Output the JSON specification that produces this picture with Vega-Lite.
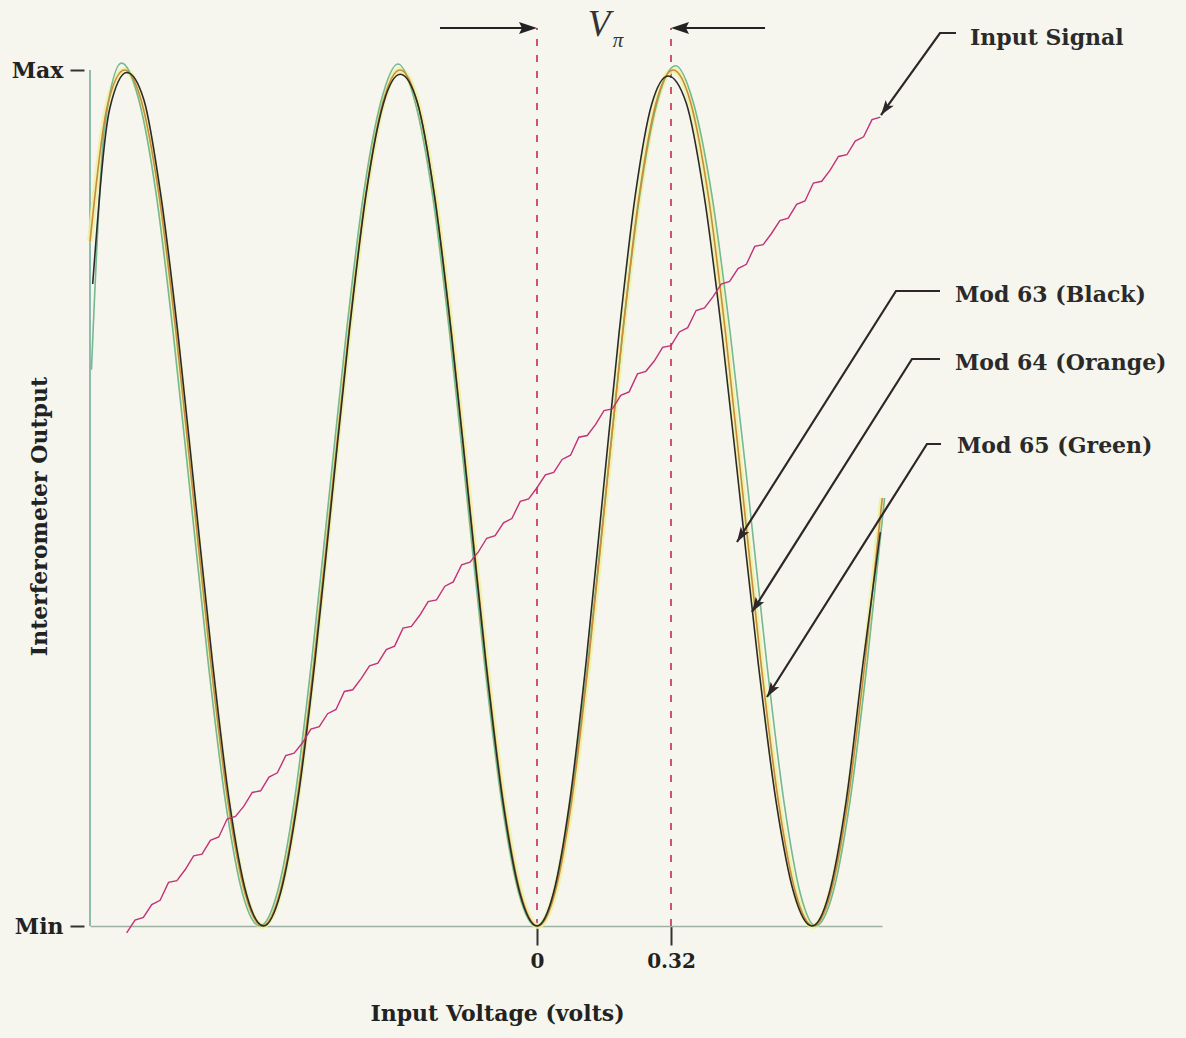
{
  "$schema": "https://vega.github.io/schema/vega-lite/v6.json",
  "width": 792,
  "height": 856,
  "autosize": {"type": "none"},
  "padding": {"left": 90, "top": 70, "right": 304, "bottom": 112},
  "background": "#f6f6ee",
  "config": {
    "view": {"stroke": null},
    "axis": {
      "grid": false,
      "labelFont": "DejaVu Serif",
      "labelFontWeight": "bold",
      "labelFontSize": 20,
      "labelColor": "#222222",
      "titleFont": "DejaVu Serif",
      "titleFontWeight": "bold",
      "titleFontSize": 22,
      "titleColor": "#222222"
    }
  },
  "datasets": {
    "curves": [
      {"series": "Mod 63", "v": -1.0611, "y": 0.75},
      {"series": "Mod 63", "v": -1.0203, "y": 0.955},
      {"series": "Mod 63", "v": -0.9795, "y": 0.997},
      {"series": "Mod 63", "v": -0.9387, "y": 0.965},
      {"series": "Mod 63", "v": -0.8979, "y": 0.852},
      {"series": "Mod 63", "v": -0.8571, "y": 0.69},
      {"series": "Mod 63", "v": -0.8163, "y": 0.5},
      {"series": "Mod 63", "v": -0.7754, "y": 0.31},
      {"series": "Mod 63", "v": -0.7346, "y": 0.145},
      {"series": "Mod 63", "v": -0.6938, "y": 0.037},
      {"series": "Mod 63", "v": -0.653, "y": 0.0},
      {"series": "Mod 63", "v": -0.6122, "y": 0.039},
      {"series": "Mod 63", "v": -0.5714, "y": 0.147},
      {"series": "Mod 63", "v": -0.5306, "y": 0.308},
      {"series": "Mod 63", "v": -0.4898, "y": 0.5},
      {"series": "Mod 63", "v": -0.4489, "y": 0.692},
      {"series": "Mod 63", "v": -0.4081, "y": 0.855},
      {"series": "Mod 63", "v": -0.3673, "y": 0.96},
      {"series": "Mod 63", "v": -0.3265, "y": 0.995},
      {"series": "Mod 63", "v": -0.2857, "y": 0.962},
      {"series": "Mod 63", "v": -0.2449, "y": 0.853},
      {"series": "Mod 63", "v": -0.2041, "y": 0.69},
      {"series": "Mod 63", "v": -0.1633, "y": 0.5},
      {"series": "Mod 63", "v": -0.1224, "y": 0.309},
      {"series": "Mod 63", "v": -0.0816, "y": 0.146},
      {"series": "Mod 63", "v": -0.0408, "y": 0.038},
      {"series": "Mod 63", "v": 0.0, "y": 0.0},
      {"series": "Mod 63", "v": 0.0391, "y": 0.038},
      {"series": "Mod 63", "v": 0.0783, "y": 0.146},
      {"series": "Mod 63", "v": 0.1174, "y": 0.309},
      {"series": "Mod 63", "v": 0.1565, "y": 0.5},
      {"series": "Mod 63", "v": 0.1956, "y": 0.691},
      {"series": "Mod 63", "v": 0.2348, "y": 0.854},
      {"series": "Mod 63", "v": 0.2739, "y": 0.96},
      {"series": "Mod 63", "v": 0.313, "y": 0.993},
      {"series": "Mod 63", "v": 0.356, "y": 0.962},
      {"series": "Mod 63", "v": 0.3989, "y": 0.854},
      {"series": "Mod 63", "v": 0.4419, "y": 0.691},
      {"series": "Mod 63", "v": 0.4849, "y": 0.5},
      {"series": "Mod 63", "v": 0.5278, "y": 0.309},
      {"series": "Mod 63", "v": 0.5708, "y": 0.146},
      {"series": "Mod 63", "v": 0.6137, "y": 0.038},
      {"series": "Mod 63", "v": 0.6567, "y": 0.0},
      {"series": "Mod 63", "v": 0.6975, "y": 0.038},
      {"series": "Mod 63", "v": 0.7383, "y": 0.146},
      {"series": "Mod 63", "v": 0.7791, "y": 0.309},
      {"series": "Mod 63", "v": 0.8199, "y": 0.46},
      {"series": "Mod 64", "v": -1.0673, "y": 0.8},
      {"series": "Mod 64", "v": -1.0261, "y": 0.958},
      {"series": "Mod 64", "v": -0.985, "y": 1.0},
      {"series": "Mod 64", "v": -0.9439, "y": 0.962},
      {"series": "Mod 64", "v": -0.9028, "y": 0.854},
      {"series": "Mod 64", "v": -0.8616, "y": 0.691},
      {"series": "Mod 64", "v": -0.8205, "y": 0.5},
      {"series": "Mod 64", "v": -0.7794, "y": 0.309},
      {"series": "Mod 64", "v": -0.7383, "y": 0.146},
      {"series": "Mod 64", "v": -0.6971, "y": 0.038},
      {"series": "Mod 64", "v": -0.656, "y": 0.0},
      {"series": "Mod 64", "v": -0.6149, "y": 0.038},
      {"series": "Mod 64", "v": -0.5738, "y": 0.146},
      {"series": "Mod 64", "v": -0.5326, "y": 0.309},
      {"series": "Mod 64", "v": -0.4915, "y": 0.5},
      {"series": "Mod 64", "v": -0.4504, "y": 0.691},
      {"series": "Mod 64", "v": -0.4093, "y": 0.854},
      {"series": "Mod 64", "v": -0.3681, "y": 0.962},
      {"series": "Mod 64", "v": -0.327, "y": 1.0},
      {"series": "Mod 64", "v": -0.2859, "y": 0.962},
      {"series": "Mod 64", "v": -0.2448, "y": 0.854},
      {"series": "Mod 64", "v": -0.2036, "y": 0.691},
      {"series": "Mod 64", "v": -0.1625, "y": 0.5},
      {"series": "Mod 64", "v": -0.1214, "y": 0.309},
      {"series": "Mod 64", "v": -0.0803, "y": 0.146},
      {"series": "Mod 64", "v": -0.0391, "y": 0.038},
      {"series": "Mod 64", "v": 0.002, "y": 0.0},
      {"series": "Mod 64", "v": 0.0424, "y": 0.038},
      {"series": "Mod 64", "v": 0.0828, "y": 0.146},
      {"series": "Mod 64", "v": 0.1231, "y": 0.309},
      {"series": "Mod 64", "v": 0.1635, "y": 0.5},
      {"series": "Mod 64", "v": 0.2039, "y": 0.691},
      {"series": "Mod 64", "v": 0.2443, "y": 0.854},
      {"series": "Mod 64", "v": 0.2846, "y": 0.962},
      {"series": "Mod 64", "v": 0.325, "y": 1.0},
      {"series": "Mod 64", "v": 0.3669, "y": 0.962},
      {"series": "Mod 64", "v": 0.4088, "y": 0.854},
      {"series": "Mod 64", "v": 0.4506, "y": 0.691},
      {"series": "Mod 64", "v": 0.4925, "y": 0.5},
      {"series": "Mod 64", "v": 0.5344, "y": 0.309},
      {"series": "Mod 64", "v": 0.5763, "y": 0.146},
      {"series": "Mod 64", "v": 0.6181, "y": 0.038},
      {"series": "Mod 64", "v": 0.66, "y": 0.0},
      {"series": "Mod 64", "v": 0.7011, "y": 0.038},
      {"series": "Mod 64", "v": 0.7423, "y": 0.146},
      {"series": "Mod 64", "v": 0.7834, "y": 0.309},
      {"series": "Mod 64", "v": 0.8245, "y": 0.5},
      {"series": "Mod 65", "v": -1.064, "y": 0.65},
      {"series": "Mod 65", "v": -1.0333, "y": 0.93},
      {"series": "Mod 65", "v": -0.992, "y": 1.008},
      {"series": "Mod 65", "v": -0.9508, "y": 0.965},
      {"series": "Mod 65", "v": -0.9095, "y": 0.855},
      {"series": "Mod 65", "v": -0.8683, "y": 0.69},
      {"series": "Mod 65", "v": -0.827, "y": 0.5},
      {"series": "Mod 65", "v": -0.7858, "y": 0.31},
      {"series": "Mod 65", "v": -0.7445, "y": 0.147},
      {"series": "Mod 65", "v": -0.7033, "y": 0.038},
      {"series": "Mod 65", "v": -0.662, "y": 0.0},
      {"series": "Mod 65", "v": -0.6208, "y": 0.038},
      {"series": "Mod 65", "v": -0.5795, "y": 0.146},
      {"series": "Mod 65", "v": -0.5383, "y": 0.309},
      {"series": "Mod 65", "v": -0.497, "y": 0.5},
      {"series": "Mod 65", "v": -0.4558, "y": 0.691},
      {"series": "Mod 65", "v": -0.4145, "y": 0.854},
      {"series": "Mod 65", "v": -0.3733, "y": 0.962},
      {"series": "Mod 65", "v": -0.332, "y": 1.007},
      {"series": "Mod 65", "v": -0.2908, "y": 0.962},
      {"series": "Mod 65", "v": -0.2495, "y": 0.854},
      {"series": "Mod 65", "v": -0.2083, "y": 0.691},
      {"series": "Mod 65", "v": -0.167, "y": 0.5},
      {"series": "Mod 65", "v": -0.1258, "y": 0.309},
      {"series": "Mod 65", "v": -0.0845, "y": 0.146},
      {"series": "Mod 65", "v": -0.0433, "y": 0.038},
      {"series": "Mod 65", "v": -0.002, "y": 0.0},
      {"series": "Mod 65", "v": 0.0393, "y": 0.038},
      {"series": "Mod 65", "v": 0.0805, "y": 0.146},
      {"series": "Mod 65", "v": 0.1218, "y": 0.309},
      {"series": "Mod 65", "v": 0.163, "y": 0.5},
      {"series": "Mod 65", "v": 0.2043, "y": 0.691},
      {"series": "Mod 65", "v": 0.2455, "y": 0.854},
      {"series": "Mod 65", "v": 0.2868, "y": 0.962},
      {"series": "Mod 65", "v": 0.331, "y": 1.005},
      {"series": "Mod 65", "v": 0.3733, "y": 0.962},
      {"series": "Mod 65", "v": 0.4175, "y": 0.854},
      {"series": "Mod 65", "v": 0.4618, "y": 0.691},
      {"series": "Mod 65", "v": 0.506, "y": 0.5},
      {"series": "Mod 65", "v": 0.5483, "y": 0.309},
      {"series": "Mod 65", "v": 0.5895, "y": 0.146},
      {"series": "Mod 65", "v": 0.6288, "y": 0.038},
      {"series": "Mod 65", "v": 0.665, "y": 0.0},
      {"series": "Mod 65", "v": 0.7063, "y": 0.038},
      {"series": "Mod 65", "v": 0.7475, "y": 0.146},
      {"series": "Mod 65", "v": 0.7888, "y": 0.309},
      {"series": "Mod 65", "v": 0.83, "y": 0.5}
    ],
    "input": [
      {"v": -0.98, "y": -0.008}, {"v": -0.96, "y": 0.007}, {"v": -0.94, "y": 0.010}, {"v": -0.92, "y": 0.025},
      {"v": -0.90, "y": 0.030}, {"v": -0.88, "y": 0.051}, {"v": -0.86, "y": 0.053}, {"v": -0.84, "y": 0.066},
      {"v": -0.82, "y": 0.082}, {"v": -0.80, "y": 0.084}, {"v": -0.78, "y": 0.100}, {"v": -0.76, "y": 0.104},
      {"v": -0.74, "y": 0.125}, {"v": -0.72, "y": 0.128}, {"v": -0.70, "y": 0.140}, {"v": -0.68, "y": 0.156},
      {"v": -0.66, "y": 0.158}, {"v": -0.64, "y": 0.174}, {"v": -0.62, "y": 0.179}, {"v": -0.60, "y": 0.199},
      {"v": -0.58, "y": 0.202}, {"v": -0.56, "y": 0.214}, {"v": -0.54, "y": 0.230}, {"v": -0.52, "y": 0.233},
      {"v": -0.50, "y": 0.248}, {"v": -0.48, "y": 0.253}, {"v": -0.46, "y": 0.274}, {"v": -0.44, "y": 0.276},
      {"v": -0.42, "y": 0.289}, {"v": -0.40, "y": 0.304}, {"v": -0.38, "y": 0.307}, {"v": -0.36, "y": 0.323},
      {"v": -0.34, "y": 0.327}, {"v": -0.32, "y": 0.348}, {"v": -0.30, "y": 0.350}, {"v": -0.28, "y": 0.363},
      {"v": -0.26, "y": 0.379}, {"v": -0.24, "y": 0.381}, {"v": -0.22, "y": 0.397}, {"v": -0.20, "y": 0.402},
      {"v": -0.18, "y": 0.422}, {"v": -0.16, "y": 0.425}, {"v": -0.14, "y": 0.437}, {"v": -0.12, "y": 0.453},
      {"v": -0.10, "y": 0.456}, {"v": -0.08, "y": 0.471}, {"v": -0.06, "y": 0.476}, {"v": -0.04, "y": 0.496},
      {"v": -0.02, "y": 0.499}, {"v": 0.00, "y": 0.512}, {"v": 0.02, "y": 0.527}, {"v": 0.04, "y": 0.530},
      {"v": 0.06, "y": 0.545}, {"v": 0.08, "y": 0.550}, {"v": 0.10, "y": 0.571}, {"v": 0.12, "y": 0.573},
      {"v": 0.14, "y": 0.586}, {"v": 0.16, "y": 0.602}, {"v": 0.18, "y": 0.604}, {"v": 0.20, "y": 0.620},
      {"v": 0.22, "y": 0.624}, {"v": 0.24, "y": 0.645}, {"v": 0.26, "y": 0.648}, {"v": 0.28, "y": 0.660},
      {"v": 0.30, "y": 0.676}, {"v": 0.32, "y": 0.678}, {"v": 0.34, "y": 0.694}, {"v": 0.36, "y": 0.699},
      {"v": 0.38, "y": 0.719}, {"v": 0.40, "y": 0.722}, {"v": 0.42, "y": 0.735}, {"v": 0.44, "y": 0.750},
      {"v": 0.46, "y": 0.753}, {"v": 0.48, "y": 0.768}, {"v": 0.50, "y": 0.773}, {"v": 0.52, "y": 0.794},
      {"v": 0.54, "y": 0.796}, {"v": 0.56, "y": 0.809}, {"v": 0.58, "y": 0.824}, {"v": 0.60, "y": 0.827},
      {"v": 0.62, "y": 0.843}, {"v": 0.64, "y": 0.847}, {"v": 0.66, "y": 0.868}, {"v": 0.68, "y": 0.870},
      {"v": 0.70, "y": 0.883}, {"v": 0.72, "y": 0.899}, {"v": 0.74, "y": 0.901}, {"v": 0.76, "y": 0.917},
      {"v": 0.78, "y": 0.922}, {"v": 0.80, "y": 0.942}, {"v": 0.82, "y": 0.945}
    ],
    "leaders": [
      {"id": "Input Signal", "o": 1, "v": 1.0006, "y": 1.0432},
      {"id": "Input Signal", "o": 2, "v": 0.9624, "y": 1.0432},
      {"id": "Input Signal", "o": 3, "v": 0.8215, "y": 0.9474},
      {"id": "Mod 63", "o": 1, "v": 0.9624, "y": 0.7418},
      {"id": "Mod 63", "o": 2, "v": 0.8573, "y": 0.7418},
      {"id": "Mod 63", "o": 3, "v": 0.4776, "y": 0.4486},
      {"id": "Mod 64", "o": 1, "v": 0.9624, "y": 0.6624},
      {"id": "Mod 64", "o": 2, "v": 0.8955, "y": 0.6624},
      {"id": "Mod 64", "o": 3, "v": 0.5134, "y": 0.3668},
      {"id": "Mod 65", "o": 1, "v": 0.9648, "y": 0.5631},
      {"id": "Mod 65", "o": 2, "v": 0.9313, "y": 0.5631},
      {"id": "Mod 65", "o": 3, "v": 0.5493, "y": 0.2675}
    ],
    "labels": [
      {"label": "Input Signal", "v": 1.034, "y": 1.0374},
      {"label": "Mod 63 (Black)", "v": 0.9982, "y": 0.7371},
      {"label": "Mod 64 (Orange)", "v": 0.9982, "y": 0.6577},
      {"label": "Mod 65 (Green)", "v": 1.003, "y": 0.5607}
    ]
  },
  "encoding": {
    "x": {
      "field": "v",
      "type": "quantitative",
      "scale": {"domain": [-1.0675, 0.8239], "nice": false, "zero": false},
      "axis": {
        "values": [0, 0.32],
        "labelExpr": "datum.value == 0 ? '0' : '0.32'",
        "title": "Input Voltage (volts)",
        "titleX": 407,
        "titleY": 94,
        "titleBaseline": "alphabetic",
        "tickSize": 19,
        "tickWidth": 2,
        "tickColor": "#333333",
        "domainColor": "#9db2a4",
        "domainWidth": 1.5,
        "labelPadding": 6
      }
    },
    "y": {
      "field": "y",
      "type": "quantitative",
      "scale": {"domain": [0, 1], "nice": false, "zero": false},
      "axis": {
        "values": [0, 1],
        "labelExpr": "datum.value == 1 ? 'Max' : 'Min'",
        "labelFontSize": 22,
        "title": "Interferometer Output",
        "titleX": -45,
        "titleY": 446,
        "titleBaseline": "middle",
        "offset": 6,
        "domain": false,
        "tickSize": 14,
        "tickWidth": 2,
        "tickColor": "#333333",
        "labelPadding": 7
      }
    }
  },
  "layer": [
    {
      "data": {"values": [{"v": -1.0675, "y": 0, "y2": 1}]},
      "mark": {"type": "rule", "color": "#6ea99a", "strokeWidth": 1.5},
      "encoding": {"y2": {"field": "y2"}}
    },
    {
      "data": {"values": [{"v": 0, "y": 0, "y2": 1.049}, {"v": 0.32, "y": 0, "y2": 1.049}]},
      "mark": {"type": "rule", "color": "#cf3f62", "strokeWidth": 1.8, "strokeDash": [7, 9]},
      "encoding": {"y2": {"field": "y2"}}
    },
    {
      "data": {"name": "curves"},
      "transform": [{"filter": "datum.series == 'Mod 64'"}],
      "mark": {"type": "line", "color": "#eef1a0", "strokeWidth": 6, "opacity": 0.85, "interpolate": "monotone"}
    },
    {
      "data": {"name": "curves"},
      "transform": [{"filter": "datum.series == 'Mod 65'"}],
      "mark": {"type": "line", "color": "#74b98f", "strokeWidth": 1.6, "interpolate": "monotone"}
    },
    {
      "data": {"name": "curves"},
      "transform": [{"filter": "datum.series == 'Mod 64'"}],
      "mark": {"type": "line", "color": "#c98a3e", "strokeWidth": 1.6, "interpolate": "monotone"}
    },
    {
      "data": {"name": "curves"},
      "transform": [{"filter": "datum.series == 'Mod 63'"}],
      "mark": {"type": "line", "color": "#2a2a2a", "strokeWidth": 1.6, "interpolate": "monotone"}
    },
    {
      "data": {"name": "input"},
      "mark": {"type": "line", "color": "#c2317a", "strokeWidth": 1.4}
    },
    {
      "data": {"values": [{"v": -0.2316, "v2": -0.01, "y": 1.0491}, {"v": 0.5445, "v2": 0.33, "y": 1.0491}]},
      "mark": {"type": "rule", "color": "#222222", "strokeWidth": 2},
      "encoding": {"x2": {"field": "v2"}}
    },
    {
      "data": {"values": [{"v": 0, "y": 1.0491}]},
      "mark": {"type": "point", "shape": "M0,0L-3.6,-1.2L-3,0L-3.6,1.2Z", "size": 100, "filled": true, "color": "#222222", "opacity": 1, "angle": 0}
    },
    {
      "data": {"values": [{"v": 0.32, "y": 1.0491}]},
      "mark": {"type": "point", "shape": "M0,0L-3.6,-1.2L-3,0L-3.6,1.2Z", "size": 100, "filled": true, "color": "#222222", "opacity": 1, "angle": 180}
    },
    {
      "data": {"name": "leaders"},
      "mark": {"type": "line", "color": "#2e2628", "strokeWidth": 2.2},
      "encoding": {"detail": {"field": "id"}, "order": {"field": "o"}}
    },
    {
      "data": {"values": [{"v": 0.4776, "y": 0.4486}, {"v": 0.5134, "y": 0.3668}, {"v": 0.5493, "y": 0.2675}]},
      "mark": {"type": "point", "shape": "M0,0L-3,-1L-2.3,0L-3,1Z", "size": 100, "filled": true, "color": "#2e2628", "opacity": 1, "angle": 122.3}
    },
    {
      "data": {"values": [{"v": 0.8215, "y": 0.9474}]},
      "mark": {"type": "point", "shape": "M0,0L-3,-1L-2.3,0L-3,1Z", "size": 100, "filled": true, "color": "#2e2628", "opacity": 1, "angle": 125.7}
    },
    {
      "data": {"name": "labels"},
      "mark": {"type": "text", "font": "DejaVu Serif", "fontWeight": "bold", "fontSize": 22, "align": "left", "baseline": "middle", "color": "#2a2a2a"},
      "encoding": {"text": {"field": "label"}}
    },
    {
      "data": {"values": [{"label": "V", "v": 0.1481, "y": 1.0397}]},
      "mark": {"type": "text", "font": "Liberation Serif", "fontStyle": "italic", "fontSize": 37, "align": "center", "baseline": "alphabetic", "color": "#333333"},
      "encoding": {"text": {"field": "label"}}
    },
    {
      "data": {"values": [{"label": "π", "v": 0.1934, "y": 1.0269}]},
      "mark": {"type": "text", "font": "Liberation Serif", "fontStyle": "italic", "fontSize": 21, "align": "center", "baseline": "alphabetic", "color": "#333333"},
      "encoding": {"text": {"field": "label"}}
    }
  ]
}
